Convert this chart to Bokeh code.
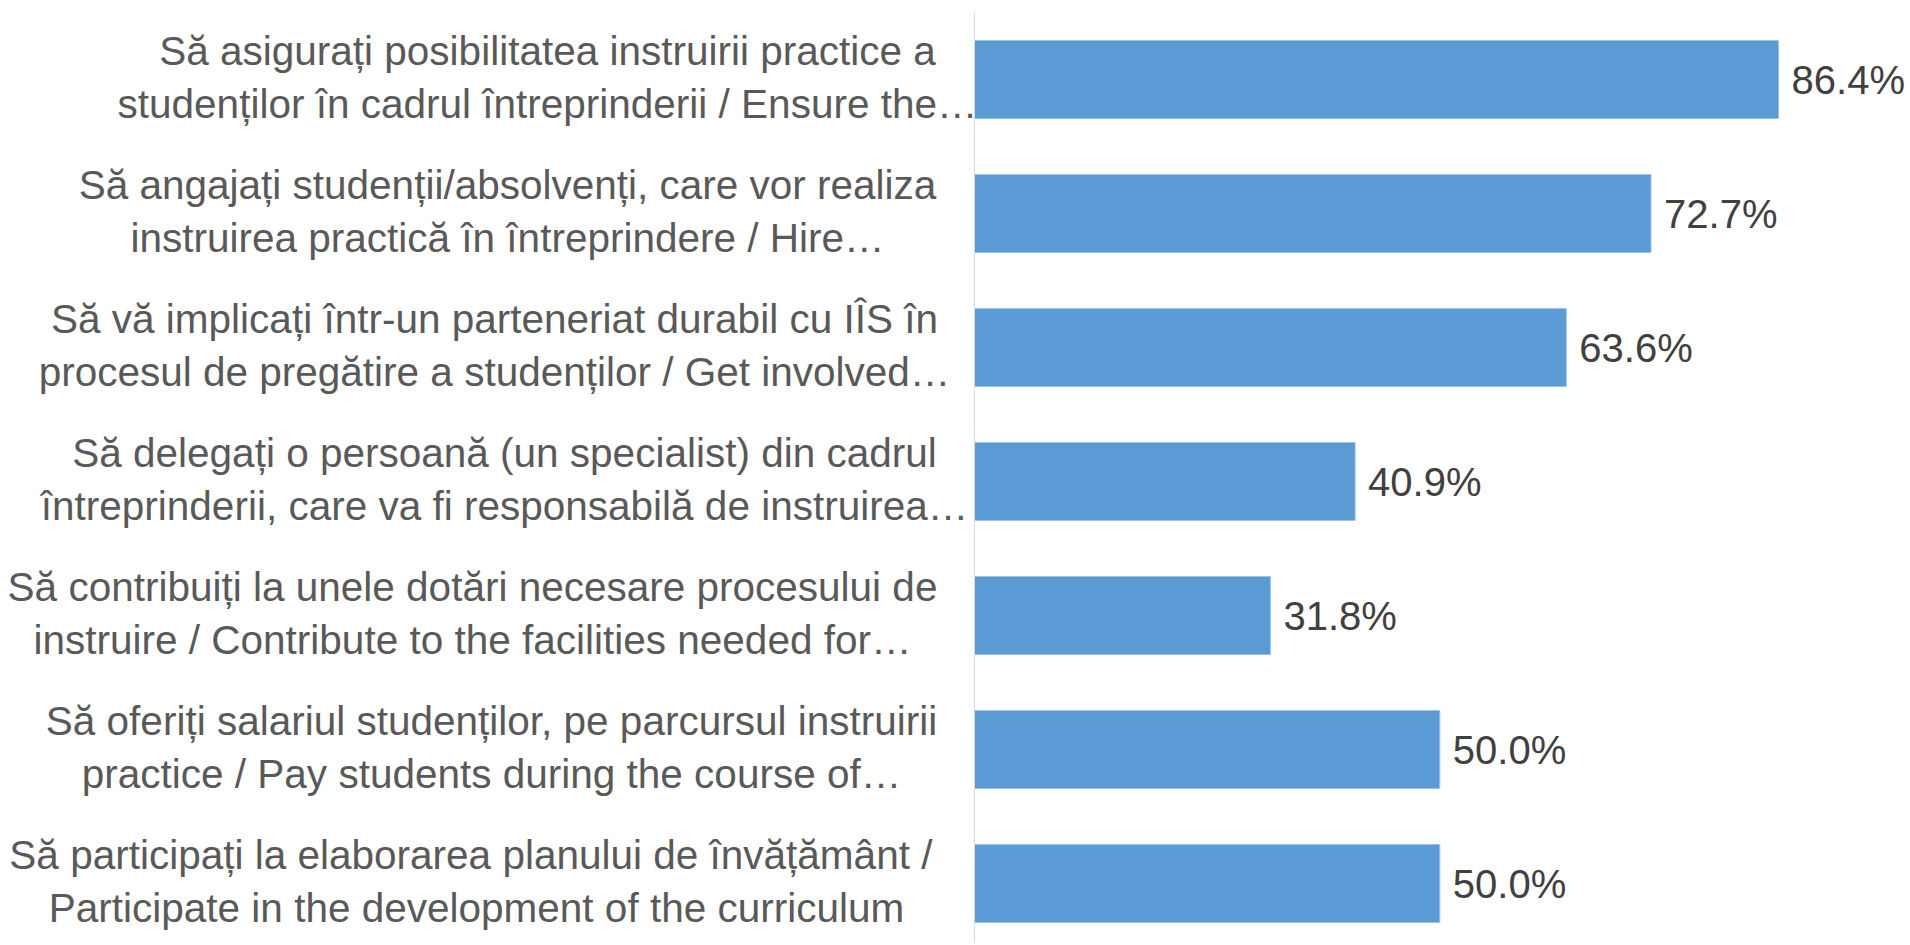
from bokeh.plotting import figure
from bokeh.models import Range1d, ColumnDataSource
from bokeh.core.properties import value
from bokeh.embed import file_html
from bokeh.resources import INLINE

# ---- data ----
categories = [
    "Să asigurați posibilitatea instruirii practice a\nstudenților în cadrul întreprinderii / Ensure the…",
    "Să angajați studenții/absolvenți, care vor realiza\ninstruirea practică în întreprindere / Hire…",
    "Să vă implicați într-un parteneriat durabil cu IÎS în\nprocesul de pregătire a studenților / Get involved…",
    "Să delegați o persoană (un specialist) din cadrul\nîntreprinderii, care va fi responsabilă de instruirea…",
    "Să contribuiți la unele dotări necesare procesului de\ninstruire / Contribute to the facilities needed for…",
    "Să oferiți salariul studenților, pe parcursul instruirii\npractice / Pay students during the course of…",
    "Să participați la elaborarea planului  de învățământ /\nParticipate in the development of the curriculum",
]
percent = [86.4, 72.7, 63.6, 40.9, 31.8, 50.0, 50.0]
value_labels = [f"{v:.1f}%" for v in percent]

# ---- layout (pixels) ----
W, H = 1908, 943
axis_px = 974            # axis position inside the frame
px_per_unit = 9.306      # pixels per percentage point
band_px = 134            # category pitch
first_center_px = 79     # first category centre from frame top
label_center_px = [547, 507, 494, 504, 472, 491, 476]  # centre of each label block

x_start = -axis_px / px_per_unit
x_end = (W - axis_px) / px_per_unit
y_top = -first_center_px / band_px
y_bottom = (H - first_center_px) / band_px

pos = list(range(len(categories)))
label_x = [(c - axis_px) / px_per_unit for c in label_center_px]

src = ColumnDataSource(dict(y=pos, v=percent, lab=value_labels, cat=categories, lx=label_x))

p = figure(width=W, height=H, output_backend="svg", toolbar_location=None,
           x_range=Range1d(x_start, x_end), y_range=Range1d(y_bottom, y_top),
           x_axis_location=None, y_axis_location=None)
p.min_border = 0
p.outline_line_color = None
p.xgrid.visible = False
p.ygrid.visible = False
p.background_fill_color = "white"
p.border_fill_color = "white"

p.hbar(y="y", left=0, right="v", height=78 / band_px, source=src,
       fill_color="#5B9BD5", line_color="#9DC3E6", line_width=1)

# vertical category axis line
p.segment(x0=0, y0=-0.5, x1=0, y1=len(categories) + 1, line_color="#D9D9D9", line_width=1)

p.text(x="v", y="y", text="lab", source=src, x_offset=13,
       text_align="left", text_baseline="middle",
       text_font=value("Liberation Sans"), text_font_size="40px",
       text_color="#404040")

p.text(x="lx", y="y", text="cat", source=src, y_offset=-2,
       text_align="center", text_baseline="middle", text_line_height=1.17,
       text_font=value("Liberation Sans"), text_font_size="40.5px",
       text_color="#595959")

open("out.html", "w").write(file_html(p, INLINE))
